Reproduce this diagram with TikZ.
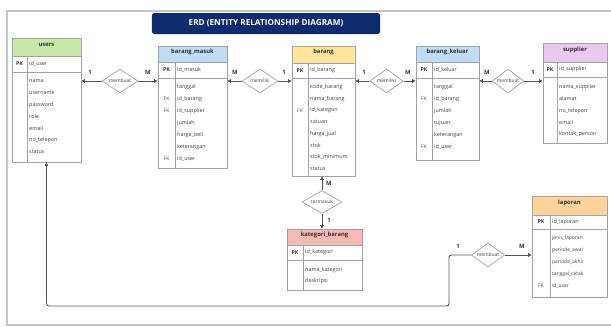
\documentclass[tikz,border=0pt]{standalone}
\usepackage{fontspec}
\setsansfont{Open Sans}
\definecolor{erdnavy}{HTML}{0D2B6E}
\definecolor{erdline}{HTML}{555555}
\definecolor{erdgray}{HTML}{A3A3A3}
\definecolor{erdframe}{HTML}{C6C6C6}
\definecolor{usergreen}{HTML}{C9E7A7}
\definecolor{flowblue}{HTML}{BFDDF7}
\definecolor{stockyellow}{HTML}{FFE49A}
\definecolor{supplierpink}{HTML}{E9C9EE}
\definecolor{categoryred}{HTML}{F7B9B5}
\definecolor{reportorange}{HTML}{FDD29D}
\usetikzlibrary{arrows.meta,positioning,shapes.geometric,fit}

\begin{document}
\begin{tikzpicture}[x=0.03cm,y=-0.03cm,font=\sffamily\fontsize{4.6}{5.5}\selectfont]
        \tikzset{
            erdbody/.style={
                draw=erdgray,
                fill=white,
                line width=0.5pt,
                inner sep=0pt
            },
            erdhead/.style={
                erdbody,
                text=black!80,
                font=\sffamily\bfseries\fontsize{5}{6}\selectfont
            },
            erdkey/.style={
                inner sep=0pt,
                text=black!80,
                font=\sffamily\bfseries\fontsize{4.5}{5}\selectfont
            },
            erdfk/.style={
                inner sep=0pt,
                text=black!70,
                font=\sffamily\fontsize{4.2}{5}\selectfont
            },
            erdattr/.style={
                anchor=west,
                inner sep=0pt,
                text=black!75
            },
            erdrel/.style={
                diamond,
                draw=erdgray,
                fill=white,
                line width=0.6pt,
                inner sep=0pt,
                aspect=2,
                text=black!75,
                font=\sffamily\fontsize{4.2}{5}\selectfont,
                minimum height=0.72cm
            },
            erdlink/.style={
                draw=erdline,
                line width=0.6pt,
                -{Bar[width=3pt]Latex[length=2.4pt,width=2.6pt]}
            },
            erdcard/.style={
                inner sep=0pt,
                text=black!80,
                font=\sffamily\bfseries\fontsize{5}{6}\selectfont
            }
        }

        \useasboundingbox (0,0) rectangle (611,326);
        \draw[erdframe, line width=1pt] (7,11) rectangle (613,325);

        \node[fill=erdnavy, rounded corners=2pt, text=white,
            font=\sffamily\bfseries\fontsize{7}{8}\selectfont,
            minimum width=6.84cm, minimum height=0.63cm] (title) at (266,23.5)
            {ERD (ENTITY RELATIONSHIP DIAGRAM)};

        % users
        \node[erdbody, fit={(12,38) (81,162)}] (users) {};
        \node[erdhead, fill=usergreen, fit={(12,38) (81,56)}] (usershead) {users};
        \draw[erdgray, line width=0.5pt] (12,72) -- (81,72) (27,56) -- (27,162);
        \node[erdkey] (userspk) at (19.5,64) {PK};
        \node[erdattr] (usersid) at (29,64) {id\_user};
        \foreach \attr [count=\i] in {nama, username, password, role, email, no\_telepon, status}
            \node[erdattr] (users-a\i) at (29,{81+(\i-1)*11.8}) {\attr};

        % barang_masuk
        \node[erdbody, fit={(158,46) (227,168)}] (barangmasuk) {};
        \node[erdhead, fill=flowblue, fit={(158,46) (227,62)}] (barangmasukhead) {barang\_masuk};
        \draw[erdgray, line width=0.5pt] (158,78) -- (227,78) (175,62) -- (175,168);
        \node[erdkey] (barangmasukpk) at (166.5,70) {PK};
        \node[erdattr] (barangmasukid) at (177,70) {id\_masuk};
        \foreach \attr [count=\i] in {tanggal, id\_barang, id\_supplier, jumlah, harga\_beli, keterangan, id\_user}
            \node[erdattr] (barangmasuk-a\i) at (177,{87+(\i-1)*12}) {\attr};
        \foreach \i in {2,3,7}
            \node[erdfk] (barangmasuk-fk\i) at (166.5,{87+(\i-1)*12}) {FK};

        % barang
        \node[erdbody, fit={(292,46) (355,176)}] (barang) {};
        \node[erdhead, fill=stockyellow, fit={(292,46) (355,63)}] (baranghead) {barang};
        \draw[erdgray, line width=0.5pt] (292,78) -- (355,78) (308,63) -- (308,176);
        \node[erdkey] (barangpk) at (300,70.5) {PK};
        \node[erdattr] (barangid) at (310,70.5) {id\_barang};
        \foreach \attr [count=\i] in {kode\_barang, nama\_barang, id\_kategori, satuan, harga\_jual, stok, stok\_minimum, status}
            \node[erdattr] (barang-a\i) at (310,{87+(\i-1)*11.7}) {\attr};
        \node[erdfk] (barang-fk3) at (300,110.4) {FK};

        % barang_keluar
        \node[erdbody, fit={(416,46) (479,160)}] (barangkeluar) {};
        \node[erdhead, fill=flowblue, fit={(416,46) (479,62)}] (barangkeluarhead) {barang\_keluar};
        \draw[erdgray, line width=0.5pt] (416,78) -- (479,78) (432,62) -- (432,160);
        \node[erdkey] (barangkeluarpk) at (424,70) {PK};
        \node[erdattr] (barangkeluarid) at (434,70) {id\_keluar};
        \foreach \attr [count=\i] in {tanggal, id\_barang, jumlah, tujuan, keterangan, id\_user}
            \node[erdattr] (barangkeluar-a\i) at (434,{87+(\i-1)*12}) {\attr};
        \foreach \i in {2,6}
            \node[erdfk] (barangkeluar-fk\i) at (424,{87+(\i-1)*12}) {FK};

        % supplier
        \node[erdbody, fit={(543,43) (607,143)}] (supplier) {};
        \node[erdhead, fill=supplierpink, fit={(543,43) (607,62)}] (supplierhead) {supplier};
        \draw[erdgray, line width=0.5pt] (543,77) -- (607,77) (557,62) -- (557,143);
        \node[erdkey] (supplierpk) at (550,69.5) {PK};
        \node[erdattr] (supplierid) at (559,69.5) {id\_supplier};
        \foreach \attr [count=\i] in {nama\_supplier, alamat, no\_telepon, email, kontak\_person}
            \node[erdattr] (supplier-a\i) at (559,{87+(\i-1)*11.8}) {\attr};

        % kategori_barang
        \node[erdbody, fit={(287,229) (362,290)}] (kategori) {};
        \node[erdhead, fill=categoryred, fit={(287,229) (362,245)}] (kategorihead) {kategori\_barang};
        \draw[erdgray, line width=0.5pt] (287,260) -- (362,260) (303,245) -- (303,290);
        \node[erdkey] (kategoripk) at (295,252.5) {PK};
        \node[erdattr] (kategoriid) at (305,252.5) {id\_kategori};
        \foreach \attr [count=\i] in {nama\_kategori, deskripsi}
            \node[erdattr] (kategori-a\i) at (305,{270+(\i-1)*11}) {\attr};

        % laporan
        \node[erdbody, fit={(532,196) (607,297)}] (laporan) {};
        \node[erdhead, fill=reportorange, fit={(532,196) (607,215)}] (laporanhead) {laporan};
        \draw[erdgray, line width=0.5pt] (532,229) -- (607,229) (550,215) -- (550,297);
        \node[erdkey] (laporanpk) at (541,222) {PK};
        \node[erdattr] (laporanid) at (552,222) {id\_laporan};
        \foreach \attr [count=\i] in {jenis\_laporan, periode\_awal, periode\_akhir, tanggal\_cetak, id\_user}
            \node[erdattr, font=\sffamily\fontsize{4.2}{5}\selectfont] (laporan-a\i) at (552,{238+(\i-1)*12}) {\attr};
        \node[erdfk] (laporan-fk5) at (541,286) {FK};

        % relationships
        \node[erdrel, minimum width=1.08cm] (membuatmasuk) at (120,81) {membuat};
        \node[erdrel, minimum width=1.08cm] (memilikimasuk) at (260,81) {memiliki};
        \node[erdrel, minimum width=1.0cm] (memilikikeluar) at (386.5,81) {memiliki};
        \node[erdrel, minimum width=0.95cm] (membuatsupplier) at (508,81) {membuat};
        \node[erdrel, minimum width=1.2cm, minimum height=0.69cm] (termasuk) at (322,202) {termasuk};
        \node[erdrel, minimum width=1.0cm] (membuatlaporan) at (488,255) {membuat};

        \draw[erdlink] (membuatmasuk) -- (users.east |- membuatmasuk);
        \draw[erdlink] (membuatmasuk) -- (barangmasuk.west |- membuatmasuk);
        \draw[erdlink] (memilikimasuk) -- (barangmasuk.east |- memilikimasuk);
        \draw[erdlink] (memilikimasuk) -- (barang.west |- memilikimasuk);
        \draw[erdlink] (memilikikeluar) -- (barang.east |- memilikikeluar);
        \draw[erdlink] (memilikikeluar) -- (barangkeluar.west |- memilikikeluar);
        \draw[erdlink] (membuatsupplier) -- (barangkeluar.east |- membuatsupplier);
        \draw[erdlink] (membuatsupplier) -- (supplier.west |- membuatsupplier);
        \draw[erdlink] (termasuk.north) -- (termasuk.north |- barang.south);
        \draw[erdlink] (termasuk.south) -- (termasuk.south |- kategori.north);

        \coordinate (reportbend) at (449,306);
        \draw[erdlink, line width=0.8pt, rounded corners=2pt]
            (membuatlaporan.west) -| (reportbend) -| (users.south);
        \draw[erdlink] (membuatlaporan) -- (laporan.west |- membuatlaporan);

        \node[erdcard] (cardmasuk1) at (90,72) {1};
        \node[erdcard] (cardmasuk2) at (148,72) {M};
        \node[erdcard] (cardmasuk3) at (235,72) {M};
        \node[erdcard] (cardmasuk4) at (284,72) {1};
        \node[erdcard] (cardkeluar1) at (364,72) {1};
        \node[erdcard] (cardkeluar2) at (408,72) {M};
        \node[erdcard] (cardsupplier1) at (487,72) {M};
        \node[erdcard] (cardsupplier2) at (533,72) {1};
        \node[erdcard] (cardkategori1) at (329,183) {M};
        \node[erdcard] (cardkategori2) at (329,220) {1};
        \node[erdcard] (cardlaporan1) at (458,246) {1};
        \node[erdcard] (cardlaporan2) at (522,246) {M};
    \end{tikzpicture}
\end{document}
